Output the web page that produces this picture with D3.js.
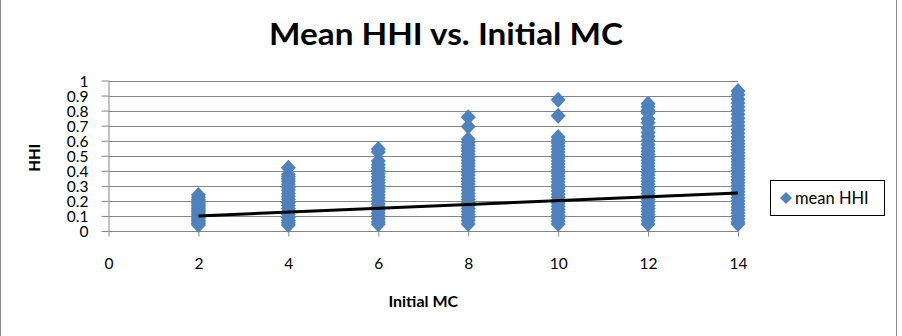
<!DOCTYPE html>
<html>
<head>
<meta charset="utf-8">
<script src="https://cdn.jsdelivr.net/npm/d3@7/dist/d3.min.js"></script>
<style>
  html, body { margin: 0; padding: 0; background: #fff; }
  svg { display: block; }
  text { font-family: Lato, "Open Sans", "Liberation Sans", sans-serif; }
</style>
</head>
<body>
<svg id="chart" width="902" height="336"></svg>
<script>
// ---------- data ----------
const categories = [2, 4, 6, 8, 10, 12, 14];
const hhi2 = [0.24, 0.225, 0.21, 0.20, 0.19, 0.18, 0.17, 0.16, 0.15, 0.14, 0.13, 0.12, 0.11, 0.10, 0.09, 0.08, 0.07, 0.06, 0.05, 0.04];
const hhi4 = [0.42, 0.375, 0.36, 0.345, 0.33, 0.31, 0.29, 0.27, 0.25, 0.23, 0.21, 0.19, 0.17, 0.15, 0.13, 0.11, 0.09, 0.07, 0.055, 0.04];
const hhi6 = [0.545, 0.525, 0.465, 0.44, 0.42, 0.40, 0.38, 0.36, 0.34, 0.32, 0.30, 0.28, 0.26, 0.24, 0.22, 0.20, 0.18, 0.16, 0.14, 0.12, 0.10, 0.08, 0.06, 0.045];
const hhi8 = [0.756, 0.694, 0.61, 0.59, 0.57, 0.55, 0.53, 0.51, 0.49, 0.47, 0.45, 0.43, 0.41, 0.39, 0.37, 0.35, 0.33, 0.31, 0.29, 0.27, 0.25, 0.23, 0.21, 0.19, 0.17, 0.15, 0.13, 0.11, 0.09, 0.07, 0.047];
const hhi10 = [0.872, 0.765, 0.625, 0.605, 0.585, 0.565, 0.545, 0.525, 0.505, 0.485, 0.465, 0.445, 0.425, 0.405, 0.385, 0.365, 0.345, 0.325, 0.305, 0.285, 0.265, 0.245, 0.225, 0.205, 0.185, 0.165, 0.145, 0.125, 0.105, 0.085, 0.065, 0.047];
const hhi12 = [0.845, 0.825, 0.80, 0.785, 0.745, 0.72, 0.685, 0.655, 0.63, 0.60, 0.575, 0.55, 0.53, 0.51, 0.49, 0.47, 0.45, 0.43, 0.41, 0.39, 0.37, 0.35, 0.33, 0.31, 0.29, 0.27, 0.25, 0.23, 0.21, 0.19, 0.17, 0.15, 0.13, 0.11, 0.09, 0.07, 0.047];
const hhi14 = [0.93, 0.905, 0.875, 0.85, 0.825, 0.80, 0.775, 0.75, 0.725, 0.70, 0.675, 0.65, 0.625, 0.60, 0.58, 0.56, 0.54, 0.52, 0.50, 0.48, 0.46, 0.44, 0.42, 0.40, 0.38, 0.36, 0.34, 0.32, 0.30, 0.28, 0.26, 0.24, 0.22, 0.20, 0.18, 0.16, 0.14, 0.12, 0.10, 0.08, 0.06, 0.047];
const seriesValues = [hhi2, hhi4, hhi6, hhi8, hhi10, hhi12, hhi14];
const trendX = [2, 14];
const trendY = [0.100, 0.253];
const xTicks = [0, 2, 4, 6, 8, 10, 12, 14];
const yTicks = [0, 0.1, 0.2, 0.3, 0.4, 0.5, 0.6, 0.7, 0.8, 0.9, 1];
const yTickLabels = ["0", "0.1", "0.2", "0.3", "0.4", "0.5", "0.6", "0.7", "0.8", "0.9", "1"];
const titleText = "Mean HHI vs. Initial MC";
const xTitle = "Initial MC";
const yTitle = "HHI";
const legendLabel = "mean HHI";

// ---------- layout ----------
(function () {
const svg = d3.select("#chart");
const pLeft = 108.5, pRight = 738, pTop = 80.5, pBottom = 231;
const x = d3.scaleLinear().domain([0, 14]).range([pLeft, pRight]);
const y = d3.scaleLinear().domain([0, 1]).range([pBottom, pTop]);
const blue = "#4F81BD";
const axisGray = "#868686";

// outer border (left & right visible)
svg.append("rect").attr("x", 0.5).attr("y", -2).attr("width", 896).attr("height", 340)
  .attr("fill", "none").attr("stroke", "#8c8c8c").attr("stroke-width", 1);

// gridlines
svg.append("g").selectAll("line").data(yTicks.slice(1)).join("line")
  .attr("x1", pLeft).attr("x2", pRight)
  .attr("y1", d => Math.round(y(d)) + 0.5).attr("y2", d => Math.round(y(d)) + 0.5)
  .attr("stroke", axisGray).attr("stroke-width", 1);

// y axis
const yAxis = d3.axisLeft(y).tickValues(yTicks).tickFormat((d, i) => yTickLabels[i]).tickSize(7).tickPadding(13);
const gy = svg.append("g").attr("transform", `translate(${pLeft},0)`).call(yAxis);
gy.select(".domain").attr("stroke", axisGray).attr("d", `M0.5,${pTop}V${pBottom}`);
gy.selectAll(".tick line").attr("stroke", axisGray);
gy.selectAll(".tick text").attr("font-family", "Lato, sans-serif").attr("font-size", 15.5).attr("fill", "#000").attr("dy", "0.36em");

// x axis
const xAxis = d3.axisBottom(x).tickValues(xTicks).tickFormat(d3.format("d")).tickSize(5).tickPadding(21);
const gx = svg.append("g").attr("transform", `translate(0,${Math.round(pBottom) + 0.5})`).call(xAxis);
gx.select(".domain").attr("stroke", axisGray).attr("d", `M${pLeft},0H${pRight}`);
gx.selectAll(".tick line").attr("stroke", axisGray);
gx.selectAll(".tick text").attr("font-family", "Lato, sans-serif").attr("font-size", 15.5).attr("fill", "#000");

// points
const diamond = "M0,-8L7.5,0L0,8L-7.5,0Z";
const pts = [];
categories.forEach((c, i) => seriesValues[i].forEach(v => pts.push({ c, v })));
svg.append("g").selectAll("path").data(pts).join("path")
  .attr("d", diamond)
  .attr("transform", d => `translate(${x(d.c)},${y(d.v)})`)
  .attr("fill", blue);

// trend line
svg.append("line")
  .attr("x1", x(trendX[0])).attr("y1", y(trendY[0]))
  .attr("x2", x(trendX[1])).attr("y2", y(trendY[1]))
  .attr("stroke", "#000").attr("stroke-width", 3);

// title
const t = svg.append("text").attr("x", 446).attr("y", 45).attr("text-anchor", "middle")
  .attr("font-weight", "bold").attr("font-size", 30).attr("fill", "#000").text(titleText);
const tw = t.node().getComputedTextLength();
if (Math.abs(tw - 354) > 4) t.attr("textLength", 354).attr("lengthAdjust", "spacingAndGlyphs");

// axis titles
svg.append("text").attr("x", (pLeft + pRight) / 2).attr("y", 307).attr("text-anchor", "middle")
  .attr("font-weight", "bold").attr("font-size", 16).attr("fill", "#000").text(xTitle);
svg.append("text").attr("transform", `translate(40,${(pTop + pBottom) / 2 + 2}) rotate(-90)`).attr("text-anchor", "middle")
  .attr("font-weight", "900").attr("font-size", 15).attr("fill", "#000").text(yTitle);

// legend
svg.append("rect").attr("x", 770.5).attr("y", 180.5).attr("width", 114).attr("height", 35)
  .attr("fill", "#fff").attr("stroke", "#000").attr("stroke-width", 1);
svg.append("path").attr("d", "M0,-6L6,0L0,6L-6,0Z").attr("transform", "translate(786,198)").attr("fill", blue);
svg.append("text").attr("x", 795).attr("y", 204).attr("font-size", 16.5).attr("fill", "#000").text(legendLabel);
})();
</script>
</body>
</html>
